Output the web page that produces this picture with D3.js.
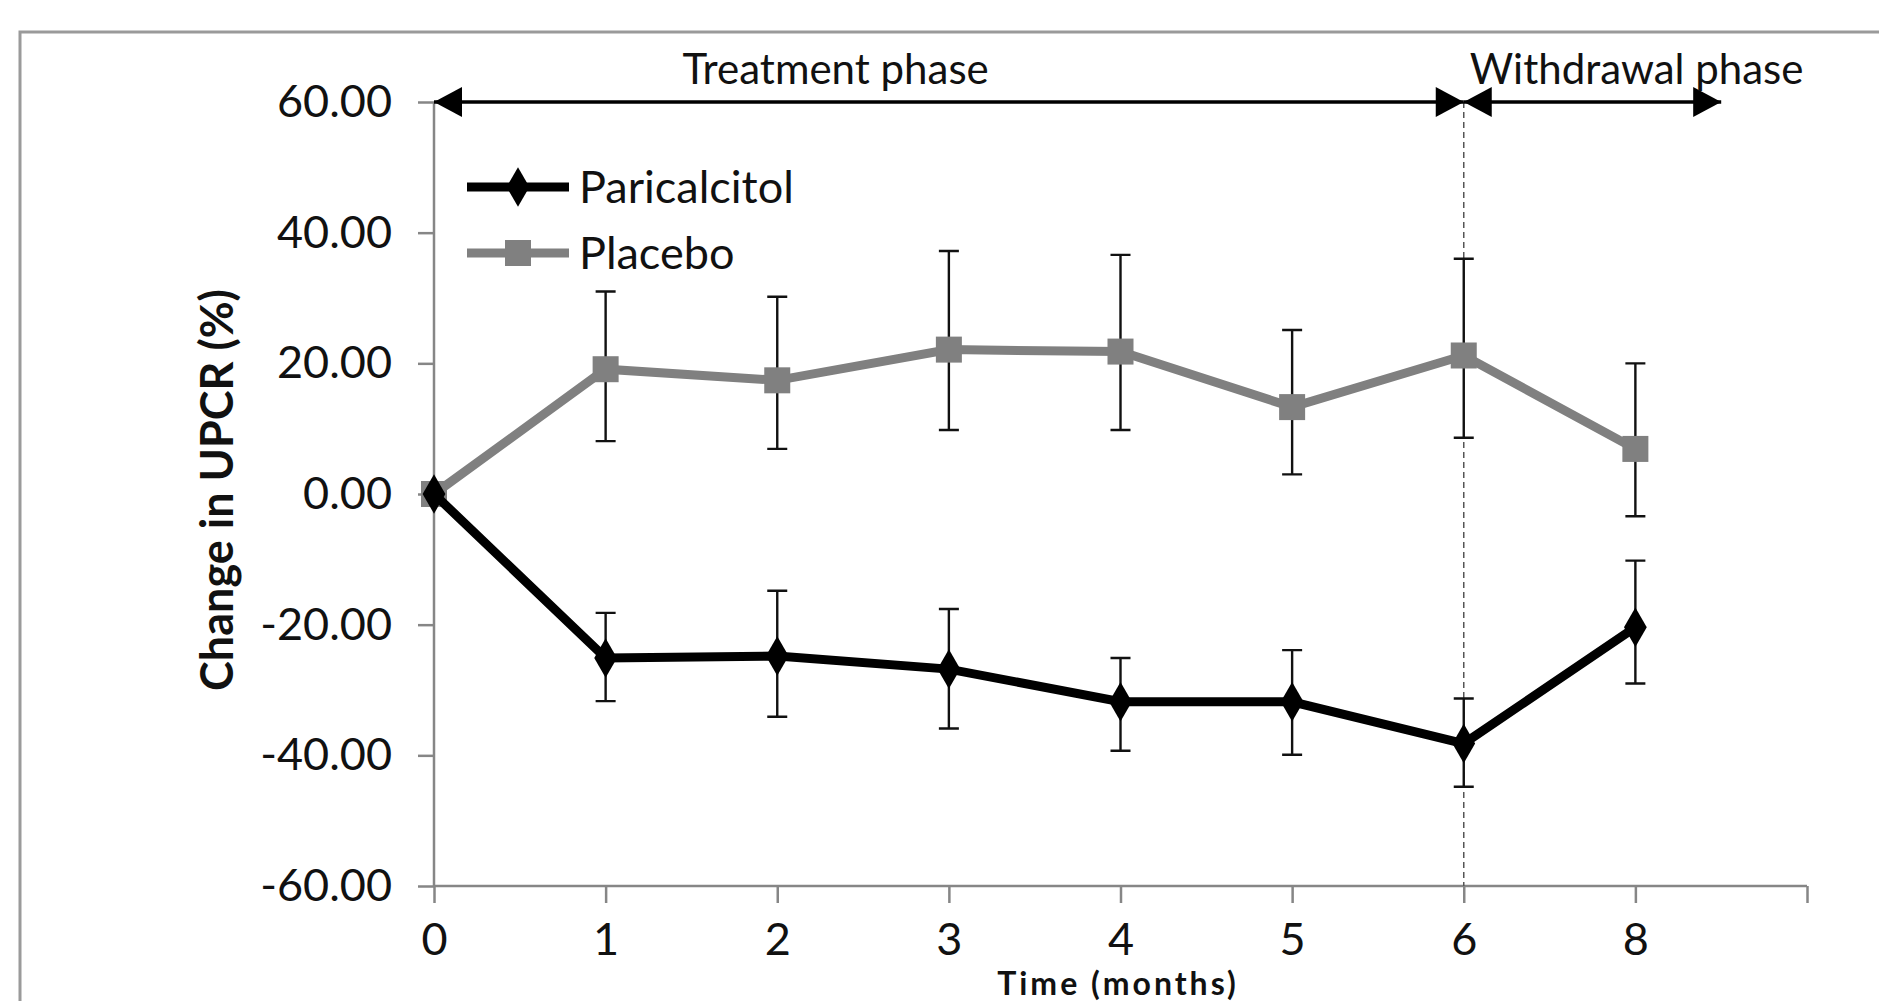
<!DOCTYPE html>
<meta charset="utf-8">
<style>
body { margin: 0; background: #fff; }
text { font-family: Lato, "Open Sans", sans-serif; fill: #111; }
.axis path, .axis line { stroke: #868686; stroke-width: 2.5px; }
.axis text { font-size: 45px; }
</style>
<svg width="1879" height="1001"></svg>
<script src="https://d3js.org/d3.v7.min.js"></script>
<script>

var months = ["0", "1", "2", "3", "4", "5", "6", "8"];
var yTicks = [-60, -40, -20, 0, 20, 40, 60];

var paricalcitol      = [0, -25.1, -24.8, -26.8, -31.8, -31.8, -38.2, -20.4];
var paricalcitolUpper = [0, -18.2, -14.8, -17.6, -25.1, -23.9, -31.3, -10.2];
var paricalcitolLower = [0, -31.7, -34.1, -35.9, -39.3, -39.9, -44.8, -29.0];

var placebo      = [0, 19.1, 17.4, 22.1, 21.8, 13.3, 21.2, 6.9];
var placeboUpper = [0, 31.0, 30.2, 37.2, 36.6, 25.1, 36.0, 20.0];
var placeboLower = [0, 8.1, 6.9, 9.8, 9.8, 3.0, 8.6, -3.4];

var svg = d3.select("svg"),
    margin = {top: 102, right: 72, bottom: 115, left: 434},
    width = +svg.attr("width") - margin.left - margin.right,
    height = +svg.attr("height") - margin.top - margin.bottom;

// outer chart frame (runs past the image edges)
svg.append("rect")
    .attr("x", 20).attr("y", 32)
    .attr("width", 1900).attr("height", 1000)
    .attr("fill", "none").attr("stroke", "#9a9a9a").attr("stroke-width", 3);

var g = svg.append("g")
    .attr("transform", "translate(" + margin.left + "," + margin.top + ")");

var x = d3.scaleLinear().domain([0, months.length]).range([0, width]),
    y = d3.scaleLinear().domain([-60, 60]).range([height, 0]);

var xAxis = d3.axisBottom(x)
    .tickValues(d3.range(0, months.length + 1))
    .tickFormat(function(i) { return months[i] || ""; })
    .tickSize(17).tickPadding(20);
var yAxis = d3.axisLeft(y)
    .tickValues(yTicks)
    .tickFormat(function(d) { return d.toFixed(2); })
    .tickSize(16).tickPadding(26);

g.append("g").attr("class", "axis axis--y").call(yAxis)
    .call(function(s) { s.select(".domain").attr("d", "M0," + height + "V0"); });
g.append("g").attr("class", "axis axis--x")
    .attr("transform", "translate(0," + height + ")")
    .call(xAxis)
    .call(function(s) { s.select(".domain").attr("d", "M0,0H" + width); });

// phase divider
var x6 = x(months.indexOf("6"));
g.append("line")
    .attr("x1", x6).attr("x2", x6)
    .attr("y1", y(60)).attr("y2", height)
    .attr("stroke", "#555").attr("stroke-width", 1.5)
    .attr("stroke-dasharray", "6,4");

// phase arrows
function arrowHead(px, dir) {
  var L = 28, H = 15;
  g.append("path")
      .attr("d", "M" + px + "," + y(60) + "L" + (px - dir * L) + "," + (y(60) - H) +
                 "L" + (px - dir * L) + "," + (y(60) + H) + "Z")
      .attr("fill", "#000");
}
function phaseArrow(x0, x1) {
  g.append("line")
      .attr("x1", x0).attr("x2", x1)
      .attr("y1", y(60)).attr("y2", y(60))
      .attr("stroke", "#000").attr("stroke-width", 3.5);
  arrowHead(x0, -1);
  arrowHead(x1, 1);
}
phaseArrow(x(0), x6);
phaseArrow(x6, x(7.5));

g.append("text")
    .attr("x", x(2.34)).attr("y", y(60) - 18)
    .attr("text-anchor", "middle")
    .style("font-size", "42px")
    .text("Treatment phase");
g.append("text")
    .attr("x", x6 + 6).attr("y", y(60) - 18)
    .style("font-size", "42px")
    .text("Withdrawal phase");

// error bars
function errorBars(upper, lower) {
  var cap = 10;
  upper.forEach(function(u, i) {
    if (u === lower[i]) return;
    var cx = x(i);
    g.append("path")
        .attr("d", "M" + cx + "," + y(u) + "V" + y(lower[i]) +
                   "M" + (cx - cap) + "," + y(u) + "H" + (cx + cap) +
                   "M" + (cx - cap) + "," + y(lower[i]) + "H" + (cx + cap))
        .attr("fill", "none").attr("stroke", "#111").attr("stroke-width", 2.4);
  });
}

var line = d3.line()
    .x(function(d, i) { return x(i); })
    .y(function(d) { return y(d); });

// placebo
g.append("path").datum(placebo)
    .attr("d", line).attr("fill", "none")
    .attr("stroke", "#808080").attr("stroke-width", 9);
errorBars(placeboUpper, placeboLower);
g.selectAll(".sq").data(placebo).enter().append("rect")
    .attr("class", "sq")
    .attr("x", function(d, i) { return x(i) - 13; })
    .attr("y", function(d) { return y(d) - 13; })
    .attr("width", 26).attr("height", 26)
    .attr("fill", "#808080");

// paricalcitol
g.append("path").datum(paricalcitol)
    .attr("d", line).attr("fill", "none")
    .attr("stroke", "#000").attr("stroke-width", 9);
errorBars(paricalcitolUpper, paricalcitolLower);
var diamond = d3.symbol().type(d3.symbolDiamond).size(450);
g.selectAll(".dm").data(paricalcitol).enter().append("path")
    .attr("class", "dm")
    .attr("transform", function(d, i) { return "translate(" + x(i) + "," + y(d) + ")"; })
    .attr("d", diamond)
    .attr("fill", "#000");

// legend
var legend = [
  {label: "Paricalcitol", color: "#000", shape: "diamond", y: 187},
  {label: "Placebo", color: "#808080", shape: "square", y: 253}
];
legend.forEach(function(l) {
  svg.append("line")
      .attr("x1", 467).attr("x2", 569)
      .attr("y1", l.y).attr("y2", l.y)
      .attr("stroke", l.color).attr("stroke-width", 9);
  if (l.shape === "diamond") {
    svg.append("path")
        .attr("transform", "translate(518," + l.y + ")")
        .attr("d", diamond).attr("fill", l.color);
  } else {
    svg.append("rect")
        .attr("x", 505).attr("y", l.y - 13)
        .attr("width", 26).attr("height", 26)
        .attr("fill", l.color);
  }
  svg.append("text")
      .attr("x", 579).attr("y", l.y)
      .attr("dy", "0.35em")
      .style("font-size", "45px")
      .text(l.label);
});

// axis titles
svg.append("text")
    .attr("transform", "translate(233,490) rotate(-90)")
    .attr("text-anchor", "middle")
    .style("font-size", "45px").style("font-weight", "bold")
    .text("Change in UPCR (%)");
svg.append("text")
    .attr("x", 1118).attr("y", 995)
    .attr("text-anchor", "middle")
    .style("font-size", "32px").style("font-weight", "bold")
    .style("letter-spacing", "3px")
    .text("Time (months)");

</script>
